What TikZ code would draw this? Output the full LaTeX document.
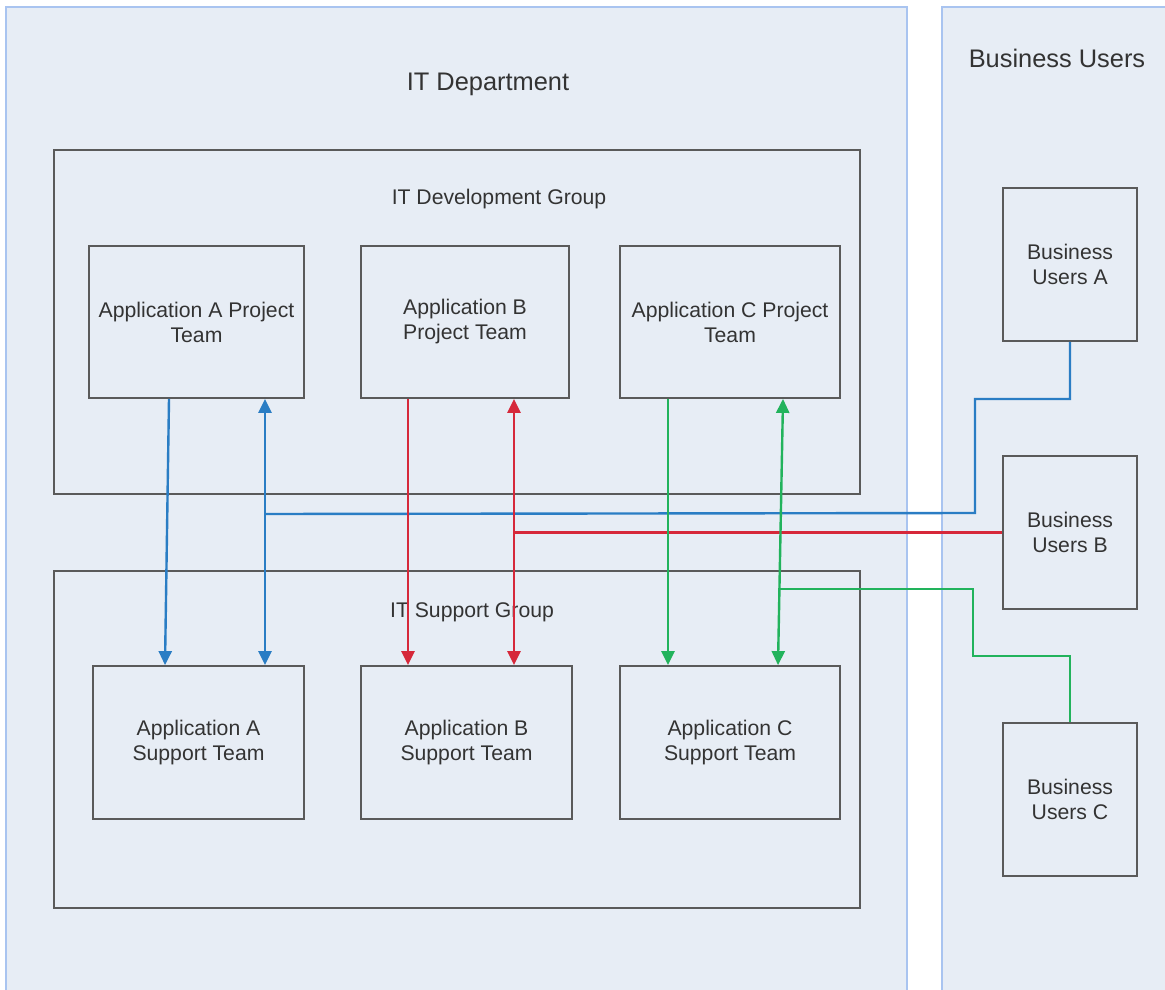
\documentclass[tikz,border=0pt]{standalone}
\usepackage{fontspec}
\setmainfont{Liberation Sans}
\usepackage{xcolor}
\usepackage{tikz}
\usetikzlibrary{positioning, calc, arrows.meta}

\definecolor{panelfill}{HTML}{E7EDF5}
\definecolor{paneledge}{HTML}{A9C4F0}
\definecolor{boxedge}{HTML}{5A5A5A}
\definecolor{textgray}{HTML}{333333}
\definecolor{linkblue}{HTML}{2A7DC4}
\definecolor{linkred}{HTML}{D6283A}
\definecolor{linkgreen}{HTML}{22B35C}

\begin{document}
\begin{tikzpicture}[x=0.5pt, y=-0.5pt,
        panel/.style={draw=paneledge, fill=panelfill, line width=0.6pt},
        groupbox/.style={draw=boxedge, line width=0.9pt, inner sep=0pt},
        teambox/.style={draw=boxedge, line width=0.9pt, align=center, text=textgray,
            font=\fontsize{10.6}{12.5}\selectfont, inner sep=0pt},
        caption/.style={text=textgray, font=\fontsize{10.6}{12.5}\selectfont, inner sep=0pt},
        title/.style={text=textgray, font=\fontsize{12.7}{15}\selectfont, inner sep=0pt},
        link/.style={line width=1.2pt},
        tip/.style={-{Triangle[length=7pt,width=6.5pt]}},
        tips/.style={{Triangle[length=7pt,width=6.5pt]}-{Triangle[length=7pt,width=6.5pt]}}]
        \clip (0,0) rectangle (1165,989);

        % the two panels
        \draw[panel] (6,7) rectangle (907,1010);
        \draw[panel] (942,7) rectangle (1190,1010);
        \node[title] (itdept) at (488,84) {IT Department};
        \node[title] (bususers) at (1057,58) {Business Users};

        % groups
        \node[groupbox, minimum width=403pt, minimum height=172pt] (devgrp) at (457,322) {};
        \node[caption] (devlbl) at (499,199) {IT Development Group};
        \node[groupbox, minimum width=403pt, minimum height=168.5pt] (supgrp) at (457,739.5) {};
        \node[caption] (suplbl) at (472,612) {IT Support Group};

        % teams
        \node[teambox, minimum width=107.5pt, minimum height=76pt] (projA) at (196.5,322) {Application A Project\\Team};
        \node[teambox, minimum width=104pt, minimum height=76pt] (projB) at (465,322) {Application B\\Project Team};
        \node[teambox, minimum width=110pt, minimum height=76pt] (projC) at (730,322) {Application C Project\\Team};

        \node[teambox, minimum width=105.5pt, minimum height=76.5pt] (supA) at (198.5,742.5) {Application A\\Support Team};
        \node[teambox, minimum width=105.5pt, minimum height=76.5pt] (supB) at (466.5,742.5) {Application B\\Support Team};
        \node[teambox, minimum width=110pt, minimum height=76.5pt] (supC) at (730,742.5) {Application C\\Support Team};

        \node[teambox, minimum width=67pt, minimum height=76.5pt] (busA) at (1070,264.5) {Business\\Users A};
        \node[teambox, minimum width=67pt, minimum height=76.5pt] (busB) at (1070,532.5) {Business\\Users B};
        \node[teambox, minimum width=67pt, minimum height=76.5pt] (busC) at (1070,799.5) {Business\\Users C};

        % application A
        \draw[link, linkblue, tip] ($(projA.south)+(-27.5,0)$) -- ($(supA.north)+(-33.5,0)$);
        \draw[link, linkblue, tips] ($(projA.south)+(68.5,0)$) -- ($(supA.north)+(66.5,0)$);
        \coordinate (joinA) at (265,514);
        \draw[link, linkblue] (joinA) -- (975,513) -- (975,399) -| (busA.south);

        % application B
        \draw[link, linkred, tip] ($(projB.south)+(-57,0)$) -- ($(supB.north)+(-58.5,0)$);
        \draw[link, linkred, tips] ($(projB.south)+(49,0)$) -- ($(supB.north)+(47.5,0)$);
        \coordinate (joinB) at (514,532.5);
        \draw[link, linkred] (joinB) -- (busB.west);

        % application C
        \draw[link, linkgreen, tip] ($(projC.south)+(-62,0)$) -- ($(supC.north)+(-62,0)$);
        \draw[link, linkgreen, tips] ($(projC.south)+(53,0)$) -- ($(supC.north)+(48,0)$);
        \coordinate (joinC) at (778,589);
        \draw[link, linkgreen] (joinC) -- (973,589) -- (973,656) -| (busC.north);

    \end{tikzpicture}
\end{document}
